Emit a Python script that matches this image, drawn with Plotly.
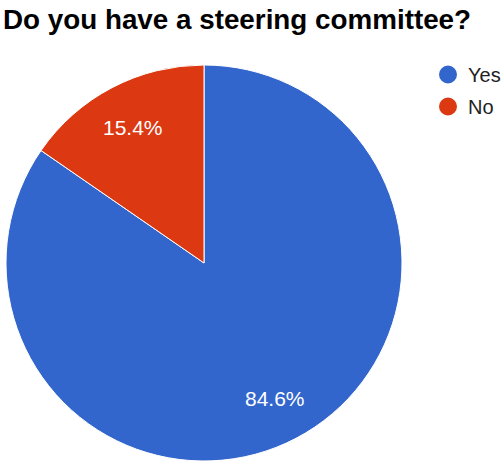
import math
import plotly.graph_objects as go

# Survey answers
answers = ["Yes", "No"]
counts = [11, 2]
colors = ["#3366cc", "#dc3912"]

W, H = 502, 464
# Pie box in pixels (left, top, size)
pie_left, pie_top, pie_size = 6, 65, 396
dom_x = [pie_left / W, (pie_left + pie_size) / W]
dom_y = [1 - (pie_top + pie_size) / H, 1 - pie_top / H]

fig = go.Figure()

fig.add_trace(go.Pie(
    labels=answers,
    values=counts,
    sort=False,
    direction="clockwise",
    rotation=0,
    marker=dict(colors=colors, line=dict(color="white", width=1)),
    textinfo="none",
    hoverinfo="label+value+percent",
    showlegend=False,
    domain=dict(x=dom_x, y=dom_y),
))

# Percent labels placed along each slice's bisector
total = sum(counts)
cx = pie_left + pie_size / 2
cy = pie_top + pie_size / 2
radius = pie_size / 2
start = 0.0
for c in counts:
    frac = c / total
    mid = (start + frac / 2) * 2 * math.pi  # clockwise from 12 o'clock
    px = cx + 0.775 * radius * math.sin(mid)
    py = cy - 0.775 * radius * math.cos(mid)
    fig.add_annotation(
        x=px / W, y=1 - py / H, xref="paper", yref="paper",
        text=f"{frac * 100:.1f}%", showarrow=False,
        xanchor="center", yanchor="middle",
        font=dict(family="Arial", size=21, color="white"),
    )
    start += frac

# Circle legend entries
for name, col in zip(answers, colors):
    fig.add_trace(go.Scatter(
        x=[None], y=[None], mode="markers", name=name,
        legendgroup=name,
        marker=dict(symbol="circle", size=16, color=col, line=dict(color=col, width=2)),
    ))

fig.update_layout(
    width=W, height=H,
    margin=dict(l=0, r=0, t=0, b=0, autoexpand=False),
    paper_bgcolor="white", plot_bgcolor="white",
    font=dict(family="Arial", color="#222222"),
    title=dict(
        text="<b>Do you have a steering committee?</b>",
        font=dict(family="Arial", size=27.8, color="#000000"),
        x=3 / W, xanchor="left", y=1 - 19 / H, yanchor="middle",
    ),
    xaxis=dict(visible=False), yaxis=dict(visible=False),
    showlegend=True,
    legend=dict(
        x=428 / W, xanchor="left", y=1 - 55 / H, yanchor="top",
        font=dict(family="Arial", size=20, color="#222222"),
        bgcolor="rgba(0,0,0,0)", tracegroupgap=3,
        itemclick=False, itemdoubleclick=False,
    ),
)

fig.write_html("out.html")
